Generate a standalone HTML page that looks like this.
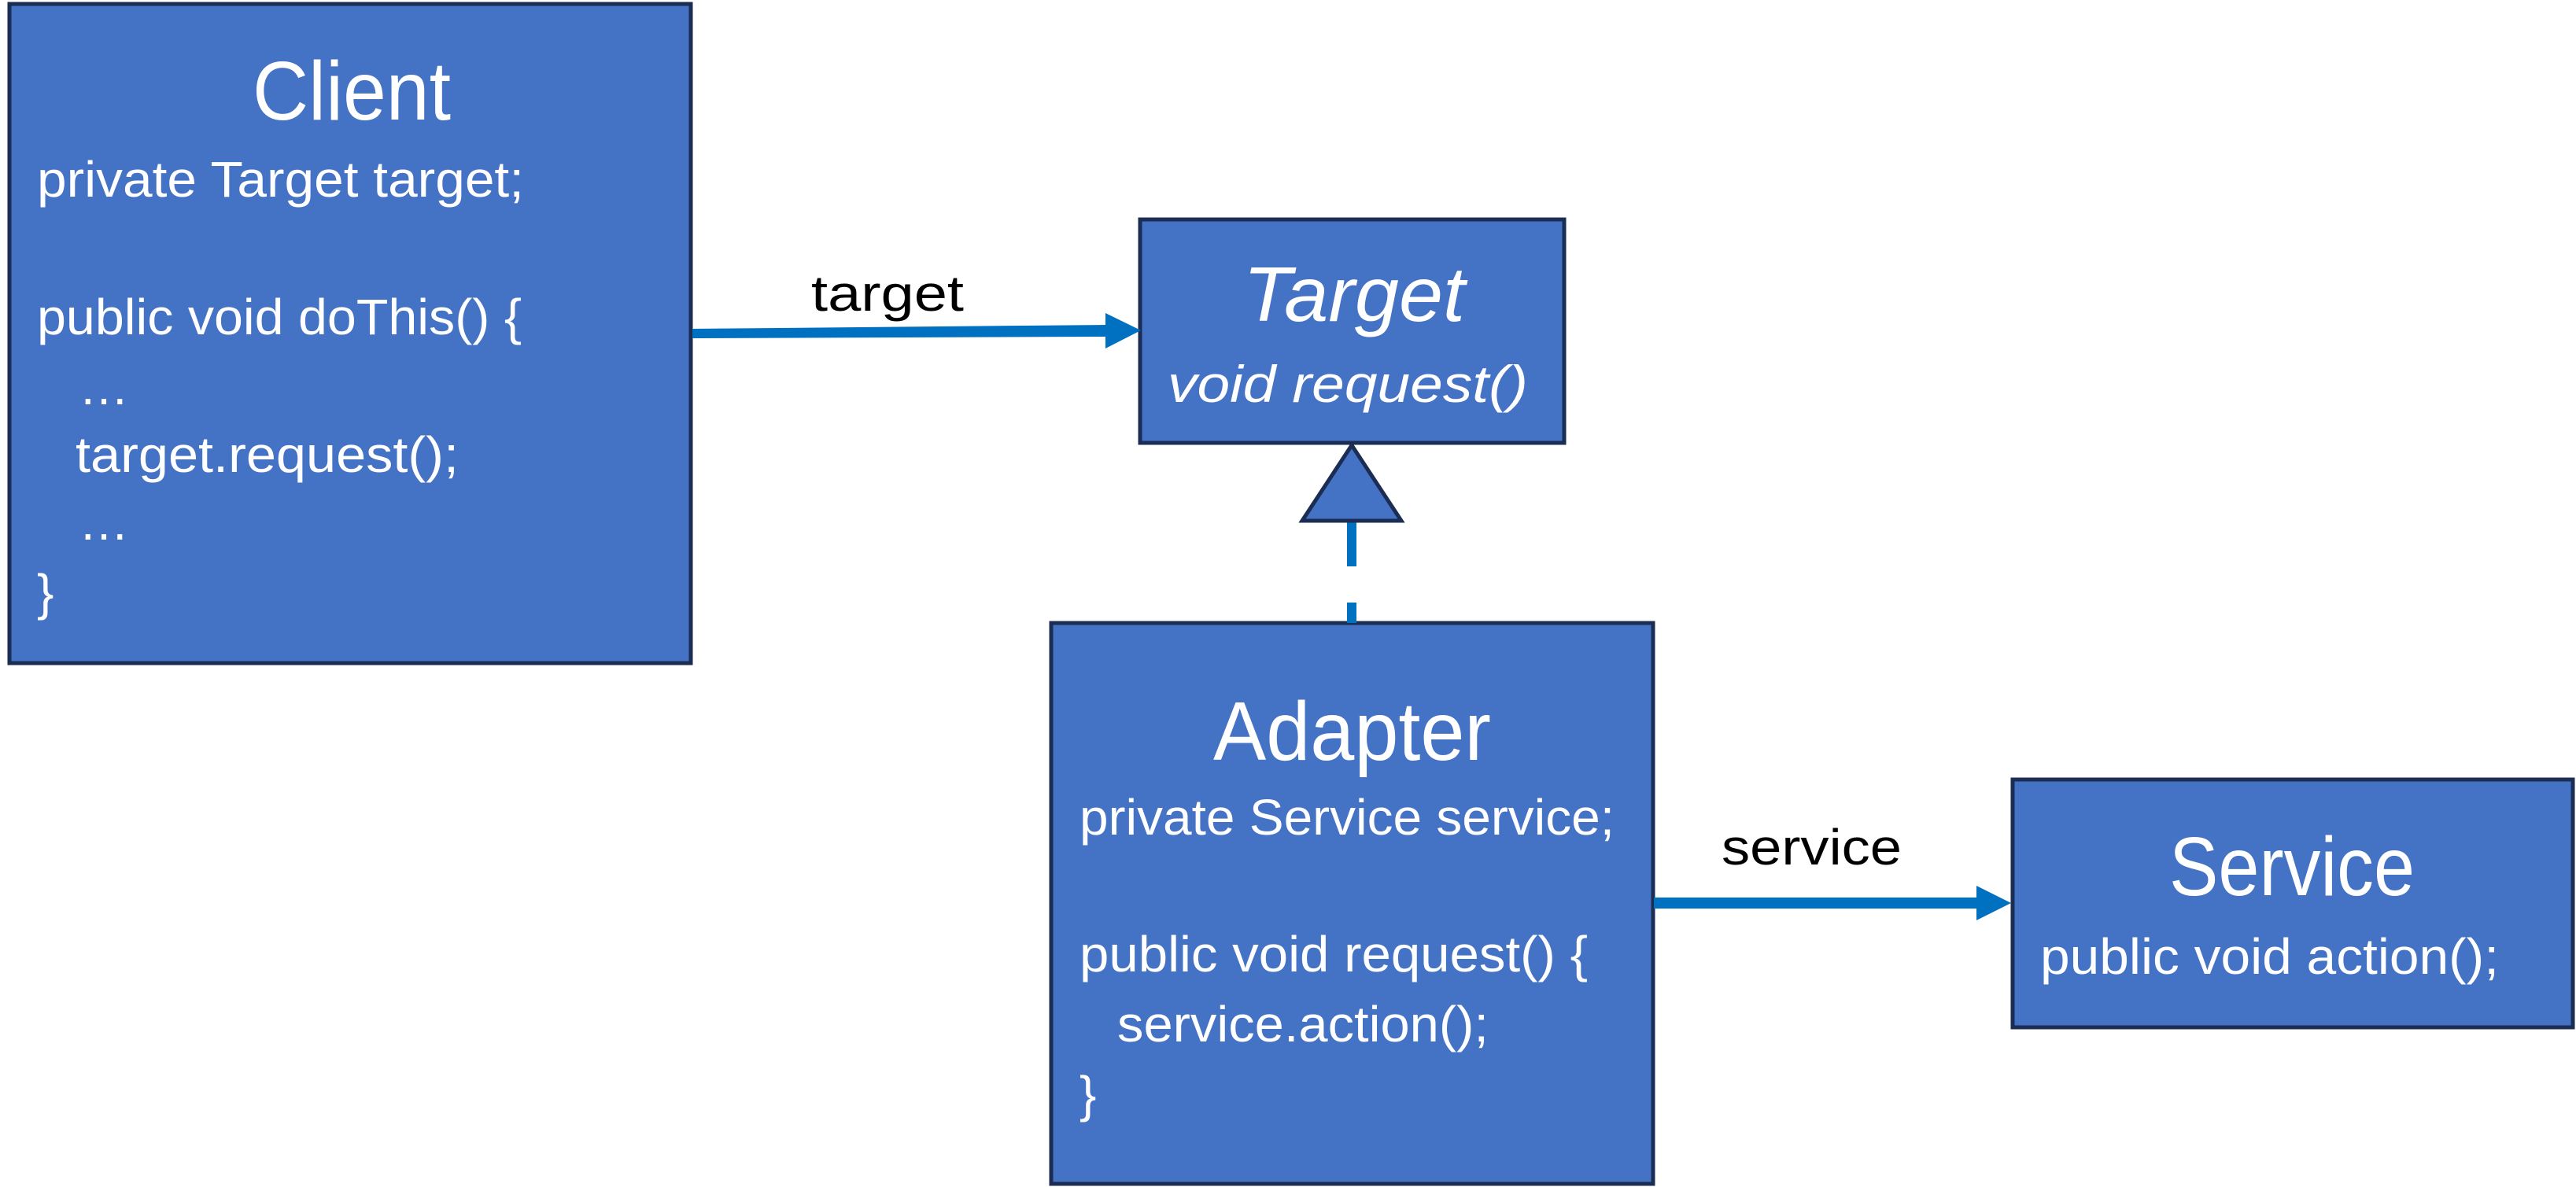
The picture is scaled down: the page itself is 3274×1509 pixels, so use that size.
<!DOCTYPE html>
<html><head><meta charset="utf-8"><style>
html,body{margin:0;padding:0;background:#fff;}
svg{display:block;}
text{font-family:"Liberation Sans",sans-serif;fill:#fff;}
</style></head><body>
<svg width="3274" height="1509" viewBox="0 0 3274 1509" xmlns="http://www.w3.org/2000/svg">
<g fill="#4472C4" stroke="#1B2D52" stroke-width="5">
<rect x="12" y="5" width="866" height="838"/>
<rect x="1449" y="279" width="539" height="284"/>
<rect x="1336" y="792" width="765" height="713"/>
<rect x="2558" y="991" width="712" height="315"/>
</g>
<polygon points="880,418 1405,413 1405,428 880,430" fill="#0070C0"/>
<polygon points="1405,398 1450,420 1405,443" fill="#0070C0"/>
<rect x="2102" y="1141" width="412" height="14" fill="#0070C0"/>
<polygon points="2512,1126 2556,1148 2512,1170" fill="#0070C0"/>
<line x1="1718" y1="662" x2="1718" y2="720" stroke="#0070C0" stroke-width="12"/>
<line x1="1718" y1="766" x2="1718" y2="792" stroke="#0070C0" stroke-width="12"/>
<polygon points="1718,566 1655,662 1781,662" fill="#4472C4" stroke="#1B2D52" stroke-width="5"/>
<text x="321" y="152" font-size="106" textLength="252" lengthAdjust="spacingAndGlyphs">Client</text>
<text x="47" y="250" font-size="64" textLength="619" lengthAdjust="spacingAndGlyphs">private Target target;</text>
<text x="47" y="425" font-size="64" textLength="616" lengthAdjust="spacingAndGlyphs">public void doThis() {</text>
<text x="100" y="514" font-size="64">…</text>
<text x="96" y="600" font-size="64" textLength="487" lengthAdjust="spacingAndGlyphs">target.request();</text>
<text x="100" y="686" font-size="64">…</text>
<text x="47" y="775" font-size="64">}</text>
<text x="1580" y="408" font-size="98" font-style="italic" textLength="282" lengthAdjust="spacingAndGlyphs">Target</text>
<text x="1484" y="511" font-size="66" font-style="italic" textLength="458" lengthAdjust="spacingAndGlyphs">void request()</text>
<text x="1031" y="395" font-size="64" style="fill:#000" textLength="194" lengthAdjust="spacingAndGlyphs">target</text>
<text x="1542" y="966" font-size="106" textLength="353" lengthAdjust="spacingAndGlyphs">Adapter</text>
<text x="1372" y="1061" font-size="64" textLength="680" lengthAdjust="spacingAndGlyphs">private Service service;</text>
<text x="1372" y="1235" font-size="64" textLength="646" lengthAdjust="spacingAndGlyphs">public void request() {</text>
<text x="1420" y="1324" font-size="64" textLength="472" lengthAdjust="spacingAndGlyphs">service.action();</text>
<text x="1372" y="1413" font-size="64">}</text>
<text x="2188" y="1099" font-size="64" style="fill:#000" textLength="229" lengthAdjust="spacingAndGlyphs">service</text>
<text x="2757" y="1138" font-size="106" textLength="312" lengthAdjust="spacingAndGlyphs">Service</text>
<text x="2593" y="1238" font-size="64" textLength="583" lengthAdjust="spacingAndGlyphs">public void action();</text>
</svg>
</body></html>
